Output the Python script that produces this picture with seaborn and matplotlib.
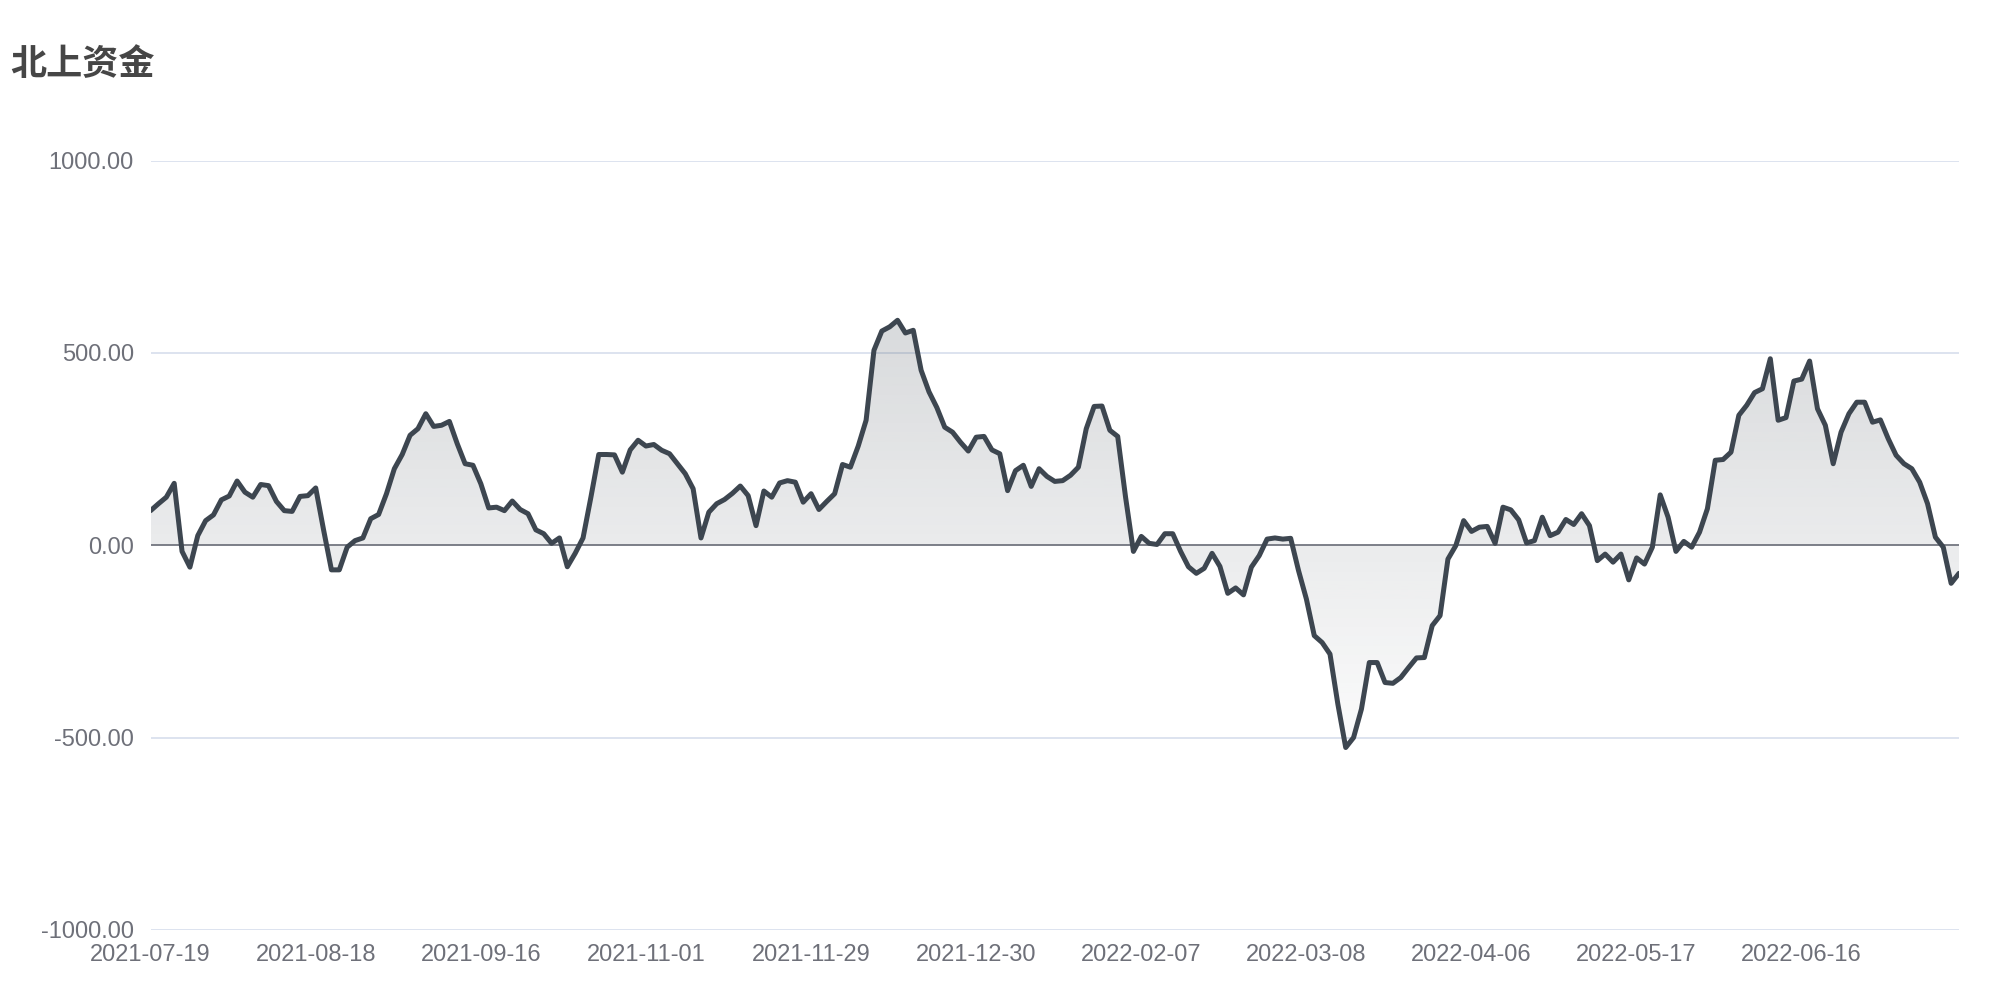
import numpy as np
import pandas as pd
import seaborn as sns
import matplotlib.pyplot as plt
from matplotlib.colors import to_rgb

# 北上资金 - 累计净流入 (每个交易日一个点)
values = [90, 108, 125, 161, -16, -57, 25, 64, 79, 118, 128, 167, 138, 125, 158, 155, 114, 90, 88, 127,
          129, 149, 40, -64, -64, -5, 12, 19, 69, 80,
          134, 199, 236, 286, 303, 342, 309, 312, 322, 264, 212, 208, 160, 97, 99, 90, 115, 93, 82, 40,
          30, 5, 19, -56, -21, 19, 125, 236, 236,
          235, 190, 248, 273, 258, 262, 247, 238, 212, 186, 147, 19, 86, 108, 119, 135, 154, 129, 51, 141,
          125, 162, 168, 164, 112, 134, 93, 114,
          134, 210, 203, 258, 325, 507, 557, 568, 585, 552, 559, 455, 399, 358, 307, 294, 268, 245, 281, 283,
          248, 238, 142, 194, 208, 153, 199, 179, 166, 168,
          182, 203, 303, 361, 362, 299, 283, 125, -16, 23, 5, 2, 30, 30, -16, -56, -73, -60, -21, -55,
          -125, -111, -129, -57, -27, 16, 19, 16, 18,
          -66, -140, -235, -253, -283, -413, -526, -500, -426, -305, -305, -357, -359, -344, -318, -293, -292,
          -209, -183, -36, -1, 64, 36, 47, 49, 5, 99, 92, 66, 6,
          12, 73, 25, 34, 67, 54, 82, 51, -40, -23, -44, -23, -90, -33, -49, -5, 131, 73, -16, 10,
          -5, 34, 95, 221, 223, 242, 338, 364, 397,
          407, 485, 325, 332, 427, 432, 479, 355, 312, 212, 294, 342, 372, 372, 320, 326, 277, 234, 212, 199,
          164, 108, 21, -5, -99, -73]

tick_labels = ['2021-07-19', '2021-08-18', '2021-09-16', '2021-11-01', '2021-11-29', '2021-12-30',
               '2022-02-07', '2022-03-08', '2022-04-06', '2022-05-17', '2022-06-16']
label_step = 21
y_ticks = [-1000, -500, 0, 500, 1000]

df = pd.DataFrame({'idx': np.arange(len(values)), 'value': values})

sns.set_theme(style='white')
plt.rcParams['font.family'] = ['Liberation Sans', 'Noto Sans CJK SC', 'DejaVu Sans']

line_color = '#3d4650'
label_color = '#6e7079'

fig = plt.figure(figsize=(20, 10), dpi=100)
ax = fig.add_axes([0.0753, 0.0702, 0.9042, 0.7691])

# 渐变填充: 折线与0轴之间
poly = ax.fill_between(df['idx'], df['value'], 0, facecolor='none', edgecolor='none')
rgb = to_rgb(line_color)
grad = np.zeros((256, 1, 4))
grad[:, 0, :3] = rgb
grad[:, 0, 3] = np.linspace(0.2, 0.02, 256)
im = ax.imshow(grad, extent=[0, len(values) - 1, min(values), max(values)],
               aspect='auto', origin='upper', zorder=1)
im.set_clip_path(poly.get_paths()[0], transform=ax.transData)

sns.lineplot(data=df, x='idx', y='value', ax=ax, color=line_color, linewidth=3.6, zorder=3)
ax.lines[-1].set_solid_joinstyle('round')
ax.axhline(0, color=label_color, linewidth=1.2, zorder=2)

ax.set_xlim(0, len(values) - 1)
ax.set_ylim(-1000, 1000)
ax.set_yticks(y_ticks)
ax.set_yticklabels([f'{v:.2f}' for v in y_ticks])
ax.set_xticks(range(0, len(values), label_step))
ax.set_xticklabels(tick_labels)
ax.set_xlabel('')
ax.set_ylabel('')
ax.yaxis.grid(True, color='#dde3ef', linewidth=1.4, zorder=0)
ax.xaxis.grid(False)
ax.set_axisbelow(True)
for s in ax.spines.values():
    s.set_visible(False)
ax.tick_params(axis='y', length=0, pad=12, labelsize=17, labelcolor=label_color)
ax.tick_params(axis='x', length=0, pad=10, labelsize=17, labelcolor=label_color)

fig.text(0.005, 0.935, '北上资金', fontsize=26, fontweight='bold', color='#464646',
         ha='left', va='center', family=['Noto Sans CJK SC', 'DejaVu Sans'])

fig.savefig('out.png', dpi=100, facecolor='white')
